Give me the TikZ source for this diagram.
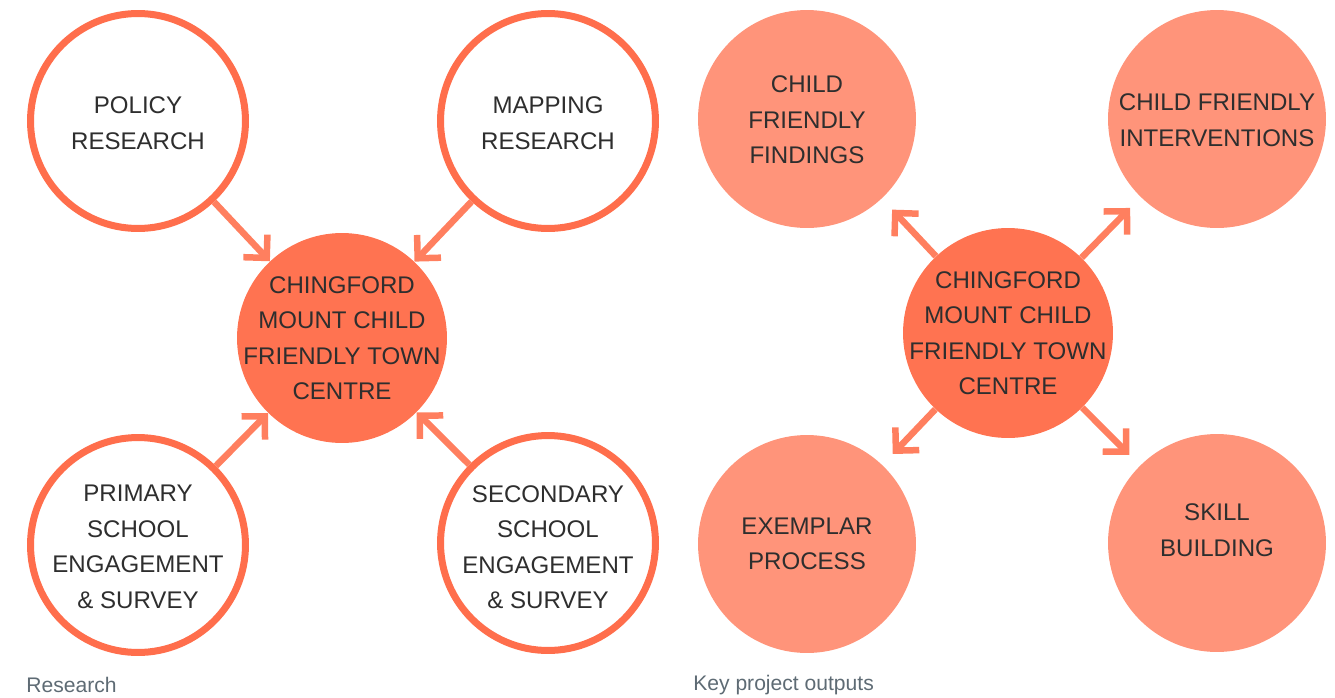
\documentclass[tikz,border=0pt]{standalone}
\usepackage{fontspec}
\setmainfont{Liberation Sans}
\usepackage{xcolor}
\usetikzlibrary{arrows.meta}
\definecolor{cfRing}{HTML}{FF6E4C}
\definecolor{cfHub}{HTML}{FF7351}
\definecolor{cfOutput}{HTML}{FF947A}
\definecolor{cfArrow}{HTML}{FF7F5F}
\definecolor{cfText}{HTML}{2E2E2E}
\definecolor{cfCaption}{HTML}{5E6B74}
\tikzset{
    ring/.style={circle, draw=cfRing, line width=0.14cm, fill=white, minimum size=4.3cm, inner sep=0pt},
    hub/.style={circle, fill=cfHub, minimum size=4.2cm, inner sep=0pt},
    output/.style={circle, fill=cfOutput, minimum size=4.36cm, inner sep=0pt},
    txt/.style={align=center, text=cfText, inner sep=0pt, font=\fontsize{13.7}{20.2}\selectfont},
    link/.style={cfArrow, line width=0.13cm, -{Straight Barb[length=0.33cm, width=0.66cm, sharp]}},
    caption/.style={anchor=base west, inner sep=0pt, text=cfCaption, font=\fontsize{12}{14}\selectfont}
}

\begin{document}
\begin{tikzpicture}[x=0.02cm, y=-0.02cm]
                \useasboundingbox (0,0) rectangle (1335,697);

                % research
                \node[hub] (hubL) at (342,338) {};
                \node[ring] (policy) at (138,121) {};
                \node[ring] (mapping) at (548,121) {};
                \node[ring] (primary) at (138,545) {};
                \node[ring] (secondary) at (548,543) {};
                \node[txt] (hubLtxt) at (hubL) {CHINGFORD\\MOUNT CHILD\\FRIENDLY TOWN\\CENTRE};
                \node[txt] (policytxt) at (138,123) {POLICY\\RESEARCH};
                \node[txt] (mappingtxt) at (548,123) {MAPPING\\RESEARCH};
                \node[txt] (primarytxt) at (138,547) {PRIMARY\\SCHOOL\\ENGAGEMENT\\\& SURVEY};
                \node[txt] (secondarytxt) at (548,547) {SECONDARY\\SCHOOL\\ENGAGEMENT\\\& SURVEY};
                \draw[link] (policy) -- (hubL);
                \draw[link] (mapping) -- (hubL);
                \draw[link] (primary) -- (hubL);
                \draw[link] (secondary) -- (hubL);
                \node[caption] (researchcap) at (26,692) {Research};

                % outputs
                \node[hub] (hubR) at (1008,333) {};
                \node[output] (findings) at (807,119) {};
                \node[output] (interventions) at (1217,119) {};
                \node[output] (exemplar) at (807,544) {};
                \node[output] (skill) at (1217,543) {};
                \node[txt] (hubRtxt) at (hubR) {CHINGFORD\\MOUNT CHILD\\FRIENDLY TOWN\\CENTRE};
                \node[txt] (findingstxt) at (807,120) {CHILD\\FRIENDLY\\FINDINGS};
                \node[txt] (interventionstxt) at (1217,120) {CHILD FRIENDLY\\INTERVENTIONS};
                \node[txt] (exemplartxt) at (807,544) {EXEMPLAR\\PROCESS};
                \node[txt] (skilltxt) at (1217,530) {SKILL\\BUILDING};
                \draw[link, shorten >=0.3cm] (hubR) -- (findings);
                \draw[link, shorten >=0.3cm] (hubR) -- (interventions);
                \draw[link, shorten >=0.3cm] (hubR) -- (exemplar);
                \draw[link, shorten >=0.3cm] (hubR) -- (skill);
                \node[caption] (outputscap) at (693,690) {Key project outputs};
\end{tikzpicture}
\end{document}
